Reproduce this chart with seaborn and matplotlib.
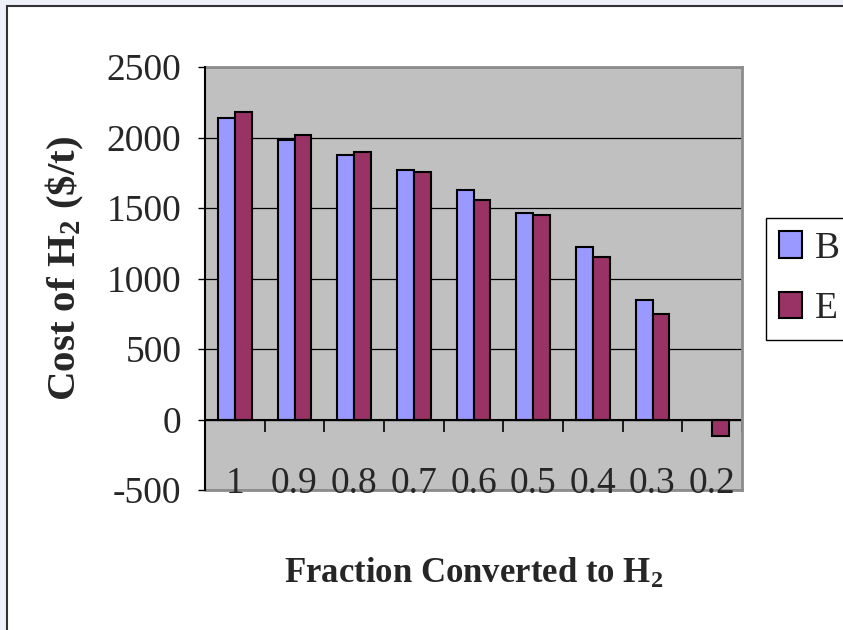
import matplotlib
matplotlib.use("Agg")
import matplotlib.pyplot as plt
from matplotlib.patches import Rectangle
import numpy as np
import pandas as pd
import seaborn as sns

# ---- data ----
fractions = ["1", "0.9", "0.8", "0.7", "0.6", "0.5", "0.4", "0.3", "0.2"]
cost_B = [2140, 1985, 1878, 1770, 1625, 1465, 1220, 850, np.nan]
cost_E = [2178, 2015, 1895, 1752, 1555, 1450, 1150, 745, -120]
series_names = ["B", "E"]
series_colors = ["#9999FF", "#993366"]
y_ticks = [-500, 0, 500, 1000, 1500, 2000, 2500]

sns.set_style("white")
plt.rcParams["font.family"] = ["Liberation Serif", "DejaVu Serif"]
plt.rcParams["mathtext.fontset"] = "custom"
plt.rcParams["mathtext.rm"] = "Liberation Serif"
plt.rcParams["mathtext.it"] = "Liberation Serif:italic"
plt.rcParams["mathtext.bf"] = "Liberation Serif:bold"

df = pd.DataFrame({
    "fraction": fractions * 2,
    "cost": cost_B + cost_E,
    "series": ["B"] * len(fractions) + ["E"] * len(fractions),
}).dropna()

fig = plt.figure(figsize=(8.43, 6.30), dpi=100)
fig.patch.set_facecolor("#EEF2F8")
fig.patches.append(Rectangle((7 / 843, -0.1), 1.1, 1.1 - 6 / 630,
                             transform=fig.transFigure, facecolor="white",
                             edgecolor="#333333", linewidth=1.5, zorder=-5))

ax = fig.add_axes([205 / 843, 1 - 490 / 630, (742 - 205) / 843, (490 - 67) / 630])
ax.set_zorder(1)
ax.set_facecolor("#C0C0C0")

sns.barplot(data=df, x="fraction", y="cost", hue="series", order=fractions,
            hue_order=series_names, palette=series_colors, width=0.56,
            edgecolor="black", linewidth=1.5, errorbar=None, ax=ax, saturation=1)

ax.set_ylim(-500, 2500)
ax.set_xlim(-0.5, len(fractions) - 0.5)
ax.set_yticks(y_ticks)
ax.set_yticklabels([str(v) for v in y_ticks])
ax.set_axisbelow(True)
ax.yaxis.grid(True, color="black", linewidth=0.9)
ax.xaxis.grid(False)

# zero axis line with category-boundary ticks
ax.axhline(0, color="black", linewidth=1.5, zorder=1.5)
ax.vlines(np.arange(len(fractions)) + 0.5, 0, -88, color="black", linewidth=1.2, zorder=1.5)

for side in ["top", "right", "bottom"]:
    ax.spines[side].set_color("#8C8C8C")
    ax.spines[side].set_linewidth(2)
    ax.spines[side].set_zorder(2)
ax.spines["left"].set_color("black")
ax.spines["left"].set_linewidth(1.5)

ax.tick_params(axis="y", which="major", direction="out", length=5, width=1,
               color="black", labelsize=27, pad=12, left=True)
ax.tick_params(axis="x", length=0, labelsize=27, pad=2)
ax.set_xticks(range(len(fractions)))
ax.set_xticklabels(fractions)
for t in ax.get_xticklabels():
    t.set_verticalalignment("baseline")
ax.xaxis.set_zorder(4)

ax.set_xlabel(r"Fraction Converted to H$_\mathbf{2}$", fontsize=25, fontweight="bold",
              va="baseline")
ax.xaxis.set_label_coords(0.5, -(583 - 490) / 423)
ax.set_ylabel(r"Cost of H$_\mathbf{2}$ (\$/t)", fontsize=29.5, fontweight="bold")
ax.yaxis.set_label_coords(-(205 - 86) / 537, (490 - 268) / 423)

sns.move_legend(ax, "upper left", bbox_to_anchor=(766 / 843, 1 - 218 / 630),
                bbox_transform=fig.transFigure, title=None, fontsize=27,
                frameon=True, fancybox=False, edgecolor="black", framealpha=1,
                borderaxespad=0, handlelength=0.6, handleheight=0.7,
                handletextpad=0.35, labelspacing=0.7, borderpad=0.35)
leg = ax.get_legend()
leg.get_frame().set_linewidth(1.0)
for h in leg.legend_handles:
    h.set_edgecolor("black")
    h.set_linewidth(1.5)

fig.savefig("out.png", dpi=100, facecolor=fig.get_facecolor())
